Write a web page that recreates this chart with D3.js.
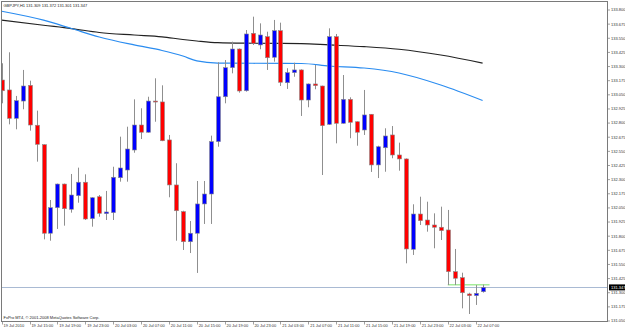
<!DOCTYPE html>
<html>
<head>
<meta charset="utf-8">
<script src="https://cdn.jsdelivr.net/npm/d3@7"></script>
<style>
  body { margin: 0; background: #fff; }
  svg { display: block; font-family: 'Liberation Sans', Arial, sans-serif; }
</style>
</head>
<body>
<svg id="chart" width="625" height="330"></svg>
<script>
const symbolTitle = 'GBPJPY,H1  131.309 131.372 131.301 131.347'
const copyright = 'FxPro MT4, \u00a9 2001-2008 MetaQuotes Software Corp.'

// H1 bars, 19 Jul 11:00 .. 22 Jul 08:00
const opens = [133.181, 133.093, 132.842, 132.995, 133.134, 132.781, 132.609, 131.826, 132.052, 132.261,
  132.038, 132.158, 132.277, 131.955, 132.149, 131.999, 132.008, 132.317, 132.385, 132.562,
  132.783, 132.719, 132.995, 132.987, 132.651, 132.253, 132.017, 131.751, 131.826, 132.085,
  132.173, 132.636, 133.033, 133.290, 133.455, 133.086, 133.594, 133.491, 133.564, 133.382,
  133.617, 133.157, 133.246, 133.270, 133.004, 133.146, 133.128, 132.789, 133.564, 132.798,
  133.010, 132.812, 132.739, 132.878, 132.430, 132.582, 132.695, 132.518, 132.483, 131.684,
  131.996, 131.943, 131.899, 131.879, 131.855, 131.486, 131.433, 131.289, 131.274, 131.309]
const highs = [133.329, 133.426, 133.040, 133.270, 133.175, 132.910, 132.612, 132.120, 132.265, 132.265,
  132.350, 132.406, 132.347, 132.145, 132.164, 132.200, 132.414, 132.680, 132.768, 133.010,
  132.931, 133.033, 133.196, 133.134, 132.695, 132.445, 132.025, 131.934, 132.288, 132.288,
  132.689, 133.338, 133.358, 133.520, 133.460, 133.623, 133.741, 133.682, 133.608, 133.712,
  133.688, 133.285, 133.334, 133.275, 133.150, 133.314, 133.131, 133.638, 133.588, 133.225,
  133.028, 132.815, 133.093, 132.880, 132.600, 132.754, 132.774, 132.627, 132.487, 132.082,
  132.149, 132.105, 132.002, 132.061, 132.032, 131.687, 131.477, 131.300, 131.368, 131.372]
const lows = [132.975, 132.789, 132.745, 132.922, 132.733, 132.459, 131.772, 131.760, 131.864, 131.893,
  132.008, 132.096, 131.943, 131.884, 131.972, 131.943, 131.943, 132.282, 132.282, 132.538,
  132.659, 132.715, 132.812, 132.640, 132.144, 131.760, 131.678, 131.651, 131.475, 131.908,
  131.908, 132.591, 132.975, 133.240, 133.069, 133.078, 133.491, 133.453, 133.270, 133.343,
  133.128, 133.102, 133.210, 132.863, 132.940, 133.099, 132.341, 132.783, 132.621, 132.795,
  132.666, 132.600, 132.695, 132.368, 132.314, 132.370, 132.489, 132.379, 131.560, 131.634,
  131.899, 131.840, 131.693, 131.766, 131.368, 131.368, 131.162, 131.112, 131.192, 131.301]
const closes = [133.086, 132.842, 132.998, 133.128, 132.783, 132.612, 131.826, 132.052, 132.261, 132.043,
  132.164, 132.277, 131.952, 132.140, 132.002, 132.014, 132.321, 132.403, 132.571, 132.783,
  132.719, 132.995, 132.987, 132.644, 132.253, 132.025, 131.751, 131.826, 132.085, 132.173,
  132.636, 133.033, 133.290, 133.455, 133.084, 133.588, 133.506, 133.579, 133.378, 133.617,
  133.161, 133.246, 133.270, 133.004, 133.146, 133.131, 132.777, 133.564, 132.798, 133.010,
  132.807, 132.719, 132.872, 132.430, 132.591, 132.686, 132.518, 132.483, 131.687, 131.996,
  131.937, 131.899, 131.879, 131.849, 131.486, 131.428, 131.300, 131.274, 131.295, 131.347]

// moving averages, read at these bar positions
const maBars = [0, 6, 10, 14, 19, 23, 26, 28, 31, 36, 43, 47, 52, 57, 63, 69]
const maFast = [133.789, 133.710, 133.636, 133.561, 133.491, 133.442, 133.393, 133.350, 133.331, 133.329,
  133.327, 133.305, 133.287, 133.243, 133.137, 133.000]
const maSlow = [133.710, 133.665, 133.636, 133.601, 133.579, 133.563, 133.539, 133.526, 133.511, 133.506,
  133.503, 133.491, 133.476, 133.453, 133.402, 133.331]

const priceTicks = [133.800, 133.675, 133.550, 133.425, 133.300, 133.175, 133.050, 132.925, 132.800, 132.675,
  132.550, 132.425, 132.300, 132.175, 132.050, 131.925, 131.800, 131.675, 131.550, 131.425,
  131.300, 131.175, 131.050]
const timeLabels = ['19 Jul 2010', '19 Jul 15:00', '19 Jul 19:00', '19 Jul 23:00', '20 Jul 03:00', '20 Jul 07:00',
  '20 Jul 11:00', '20 Jul 15:00', '20 Jul 19:00', '20 Jul 23:00', '21 Jul 03:00', '21 Jul 07:00',
  '21 Jul 11:00', '21 Jul 15:00', '21 Jul 19:00', '21 Jul 23:00', '22 Jul 03:00', '22 Jul 07:00']
const timeLabelBars = [0, 4, 8, 12, 16, 20, 24, 28, 32, 36, 40, 44, 48, 52, 56, 60, 64, 68]

const bidPrice = 131.347
const levelPrice = 131.370
const levelBars = [64, 70]

const frame = { left: 1.5, top: 1.5, right: 607.5, bottom: 321.5 }

const svg = d3.select('#chart')
const x = d3.scaleLinear().domain([0, 69]).range([1.7, 482.6])
const y = d3.scaleLinear().domain([131.05, 133.8]).range([321, 10])

svg.append('defs').append('clipPath').attr('id', 'plot-clip')
  .append('rect')
  .attr('x', frame.left).attr('y', frame.top)
  .attr('width', frame.right - frame.left).attr('height', frame.bottom - frame.top)

const plot = svg.append('g').attr('clip-path', 'url(#plot-clip)')

// moving averages
const maLine = d3.line()
  .x((d) => x(d[0]))
  .y((d) => y(d[1]))
  .curve(d3.curveMonotoneX)

plot.append('path')
  .datum(maBars.map((b, i) => [b, maSlow[i]]))
  .attr('d', maLine)
  .attr('fill', 'none')
  .attr('stroke', '#222')
  .attr('stroke-width', 1.2)

plot.append('path')
  .datum(maBars.map((b, i) => [b, maFast[i]]))
  .attr('d', maLine)
  .attr('fill', 'none')
  .attr('stroke', '#2a8cf0')
  .attr('stroke-width', 1.2)

// bid line
plot.append('line')
  .attr('x1', frame.left).attr('x2', frame.right)
  .attr('y1', Math.round(y(bidPrice)) + 0.5).attr('y2', Math.round(y(bidPrice)) + 0.5)
  .attr('stroke', '#a9bad3')
  .attr('stroke-width', 1)

// horizontal level
plot.append('line')
  .attr('x1', x(levelBars[0])).attr('x2', x(levelBars[1]))
  .attr('y1', y(levelPrice)).attr('y2', y(levelPrice))
  .attr('stroke', '#a6ec9a')
  .attr('stroke-width', 1.4)

// candles
const bars = d3.range(opens.length).map((i) => ({
  i, o: opens[i], h: highs[i], l: lows[i], c: closes[i],
}))
const bodyW = 4

const candle = plot.append('g').selectAll('g')
  .data(bars)
  .enter()
  .append('g')

candle.append('line')
  .attr('x1', (d) => Math.round(x(d.i)) + 0.5)
  .attr('x2', (d) => Math.round(x(d.i)) + 0.5)
  .attr('y1', (d) => y(d.h))
  .attr('y2', (d) => y(d.l))
  .attr('stroke', '#8f8f8f')
  .attr('stroke-width', 1)

candle.append('rect')
  .attr('x', (d) => Math.round(x(d.i)) + 0.5 - bodyW / 2)
  .attr('width', bodyW)
  .attr('y', (d) => y(Math.max(d.o, d.c)))
  .attr('height', (d) => Math.max(1, Math.abs(y(d.o) - y(d.c))))
  .attr('fill', (d) => d.c >= d.o ? '#0000ff' : '#ff0000')
  .attr('stroke', '#8a8a8a')
  .attr('stroke-width', 0.6)

// frame
svg.append('rect')
  .attr('x', frame.left).attr('y', frame.top)
  .attr('width', frame.right - frame.left).attr('height', frame.bottom - frame.top)
  .attr('fill', 'none')
  .attr('stroke', '#7a7a7a')
  .attr('stroke-width', 1)

// price axis
const fmt = d3.format('.3f')
const priceAxis = svg.append('g')
priceAxis.selectAll('line')
  .data(priceTicks)
  .enter()
  .append('line')
  .attr('x1', frame.right).attr('x2', frame.right + 2.5)
  .attr('y1', (d) => y(d)).attr('y2', (d) => y(d))
  .attr('stroke', '#7a7a7a')
  .attr('stroke-width', 0.7)
priceAxis.selectAll('text')
  .data(priceTicks)
  .enter()
  .append('text')
  .attr('x', frame.right + 3.5)
  .attr('y', (d) => y(d) + 1.4)
  .attr('font-size', 4)
  .attr('fill', '#333')
  .text(fmt)

const bidY = y(bidPrice)
svg.append('rect')
  .attr('x', frame.right + 1.5).attr('y', bidY - 3)
  .attr('width', 17).attr('height', 6)
  .attr('fill', '#000')
svg.append('text')
  .attr('x', frame.right + 3.5)
  .attr('y', bidY + 1.4)
  .attr('font-size', 4)
  .attr('fill', '#fff')
  .text(fmt(bidPrice))

// time axis
const timeAxis = svg.append('g')
timeAxis.selectAll('line')
  .data(timeLabelBars)
  .enter()
  .append('line')
  .attr('x1', (d) => Math.round(x(d)) + 0.5).attr('x2', (d) => Math.round(x(d)) + 0.5)
  .attr('y1', frame.bottom).attr('y2', frame.bottom + 3)
  .attr('stroke', '#7a7a7a')
  .attr('stroke-width', 0.7)
timeAxis.selectAll('text')
  .data(timeLabelBars)
  .enter()
  .append('text')
  .attr('x', (d) => x(d) + 1.8)
  .attr('y', frame.bottom + 5)
  .attr('font-size', 4)
  .attr('fill', '#333')
  .text((d, i) => timeLabels[i])

svg.append('text')
  .attr('x', 3.5).attr('y', 6.5)
  .attr('font-size', 4)
  .attr('fill', '#222')
  .text(symbolTitle)

svg.append('text')
  .attr('x', 3.5).attr('y', 318.5)
  .attr('font-size', 4)
  .attr('fill', '#222')
  .text(copyright)
</script>
</body>
</html>
